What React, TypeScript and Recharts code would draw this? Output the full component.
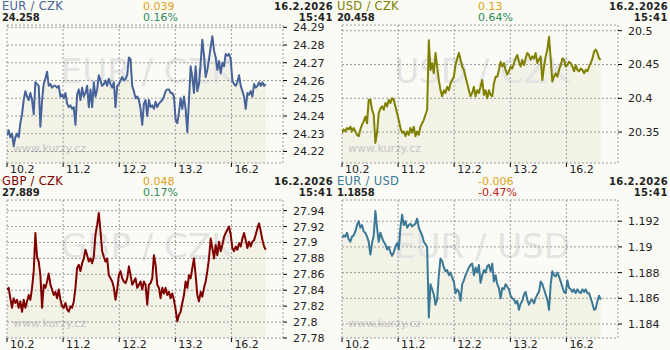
import React from 'react';
import { ComposedChart, Area, Line, XAxis, YAxis, CartesianGrid } from 'recharts';

// ---- shared axis data ----
const DAY_TICKS = [0, 1, 2, 3, 4];
const DAY_LABELS = ['10.2', '11.2', '12.2', '13.2', '16.2'];
const STEP_DAYS = 0.02976; // sampling interval of the quotes (days)
const X_END = 4.92;
const DATE_TEXT = '16.2.2026';
const TIME_TEXT = '15:41';

// ---- series values ----
const eurCzk = [
  24.229, 24.232, 24.228, 24.230, 24.223, 24.228, 24.230, 24.228, 24.236, 24.241,
  24.249, 24.254, 24.251, 24.249, 24.253, 24.249, 24.241, 24.259, 24.258, 24.257,
  24.234, 24.249, 24.258, 24.261, 24.265, 24.257, 24.258, 24.256, 24.257, 24.257,
  24.256, 24.257, 24.251, 24.252, 24.250, 24.253, 24.247, 24.245, 24.246, 24.244,
  24.245, 24.235, 24.252, 24.255, 24.249, 24.256, 24.251, 24.253, 24.257, 24.245,
  24.255, 24.245, 24.259, 24.251, 24.255, 24.263, 24.260, 24.257, 24.258, 24.260,
  24.257, 24.261, 24.258, 24.256, 24.259, 24.245, 24.257, 24.258, 24.260, 24.262,
  24.260, 24.261, 24.263, 24.273, 24.272, 24.257, 24.254, 24.250, 24.251, 24.249,
  24.244, 24.235, 24.247, 24.249, 24.240, 24.249, 24.245, 24.246, 24.244, 24.248,
  24.245, 24.247, 24.248, 24.249, 24.251, 24.254, 24.255, 24.255, 24.253, 24.253,
  24.251, 24.238, 24.236, 24.242, 24.250, 24.244, 24.251, 24.244, 24.231, 24.249,
  24.268, 24.262, 24.253, 24.268, 24.254, 24.258, 24.270, 24.283, 24.274, 24.262,
  24.266, 24.272, 24.279, 24.285, 24.277, 24.273, 24.266, 24.271, 24.264, 24.270,
  24.268, 24.275, 24.274, 24.275, 24.272, 24.260, 24.258, 24.257, 24.259, 24.263,
  24.257, 24.254, 24.251, 24.244, 24.253, 24.252, 24.254, 24.251, 24.258, 24.256,
  24.257, 24.259, 24.257, 24.259, 24.257, 24.258,
];

const usdCzk = [
  20.349, 20.354, 20.351, 20.356, 20.354, 20.358, 20.351, 20.356, 20.351, 20.346,
  20.344, 20.354, 20.361, 20.366, 20.373, 20.363, 20.398, 20.398, 20.383, 20.376,
  20.334, 20.349, 20.378, 20.385, 20.388, 20.383, 20.393, 20.388, 20.398, 20.393,
  20.400, 20.398, 20.388, 20.378, 20.368, 20.356, 20.349, 20.351, 20.344, 20.351,
  20.346, 20.356, 20.349, 20.358, 20.344, 20.351, 20.346, 20.358, 20.363, 20.368,
  20.376, 20.383, 20.486, 20.442, 20.452, 20.437, 20.467, 20.447, 20.427, 20.412,
  20.403, 20.412, 20.408, 20.417, 20.412, 20.422, 20.427, 20.432, 20.449, 20.459,
  20.467, 20.457, 20.447, 20.442, 20.432, 20.422, 20.412, 20.403, 20.408, 20.417,
  20.403, 20.412, 20.408, 20.417, 20.427, 20.405, 20.412, 20.400, 20.412, 20.405,
  20.403, 20.422, 20.432, 20.432, 20.442, 20.454, 20.447, 20.452, 20.442, 20.435,
  20.440, 20.447, 20.444, 20.452, 20.459, 20.464, 20.454, 20.447, 20.457, 20.449,
  20.459, 20.467, 20.464, 20.457, 20.462, 20.459, 20.467, 20.452, 20.457, 20.462,
  20.427, 20.447, 20.462, 20.472, 20.491, 20.459, 20.425, 20.432, 20.437, 20.432,
  20.442, 20.449, 20.459, 20.457, 20.447, 20.449, 20.454, 20.452, 20.447, 20.440,
  20.449, 20.442, 20.440, 20.444, 20.442, 20.437, 20.442, 20.440, 20.447, 20.452,
  20.459, 20.469, 20.472, 20.467, 20.459, 20.457,
];

const gbpCzk = [
  27.841, 27.843, 27.830, 27.818, 27.830, 27.824, 27.828, 27.818, 27.826, 27.813,
  27.828, 27.818, 27.826, 27.834, 27.828, 27.843, 27.864, 27.912, 27.882, 27.876,
  27.859, 27.818, 27.847, 27.843, 27.851, 27.861, 27.847, 27.841, 27.834, 27.838,
  27.830, 27.841, 27.828, 27.820, 27.818, 27.824, 27.816, 27.813, 27.820, 27.818,
  27.826, 27.843, 27.868, 27.872, 27.864, 27.874, 27.880, 27.891, 27.884, 27.876,
  27.880, 27.874, 27.882, 27.910, 27.922, 27.937, 27.914, 27.889, 27.882, 27.876,
  27.880, 27.859, 27.855, 27.851, 27.843, 27.828, 27.841, 27.859, 27.864, 27.855,
  27.851, 27.849, 27.855, 27.870, 27.859, 27.847, 27.851, 27.855, 27.843, 27.847,
  27.851, 27.841, 27.851, 27.847, 27.822, 27.847, 27.849, 27.855, 27.884, 27.872,
  27.847, 27.843, 27.830, 27.843, 27.836, 27.843, 27.834, 27.838, 27.830, 27.836,
  27.828, 27.816, 27.801, 27.809, 27.813, 27.824, 27.834, 27.851, 27.843, 27.859,
  27.855, 27.868, 27.880, 27.859, 27.834, 27.826, 27.838, 27.832, 27.843, 27.851,
  27.864, 27.880, 27.905, 27.893, 27.880, 27.897, 27.884, 27.901, 27.889, 27.897,
  27.907, 27.912, 27.916, 27.920, 27.910, 27.893, 27.889, 27.895, 27.891, 27.899,
  27.895, 27.905, 27.912, 27.903, 27.893, 27.901, 27.895, 27.901, 27.903, 27.910,
  27.918, 27.924, 27.914, 27.903, 27.895, 27.891,
];

const eurUsd = [
  1.1907, 1.1909, 1.1908, 1.1911, 1.1906, 1.1904, 1.1908, 1.1909, 1.1912, 1.1917,
  1.1920, 1.1915, 1.1917, 1.1912, 1.1911, 1.1908, 1.1904, 1.1894, 1.1903, 1.1909,
  1.1928, 1.1915, 1.1904, 1.1911, 1.1907, 1.1904, 1.1902, 1.1898, 1.1900, 1.1896,
  1.1893, 1.1896, 1.1900, 1.1903, 1.1898, 1.1915, 1.1925, 1.1917, 1.1920, 1.1915,
  1.1917, 1.1918, 1.1916, 1.1917, 1.1918, 1.1922, 1.1915, 1.1912, 1.1909, 1.1904,
  1.1902, 1.1900, 1.1845, 1.1871, 1.1867, 1.1863, 1.1855, 1.1859, 1.1878, 1.1891,
  1.1889, 1.1884, 1.1881, 1.1882, 1.1878, 1.1880, 1.1876, 1.1873, 1.1864, 1.1867,
  1.1865, 1.1858, 1.1871, 1.1874, 1.1878, 1.1881, 1.1884, 1.1886, 1.1887, 1.1878,
  1.1884, 1.1880, 1.1886, 1.1872, 1.1878, 1.1882, 1.1880, 1.1885, 1.1886, 1.1881,
  1.1887, 1.1873, 1.1878, 1.1871, 1.1868, 1.1860, 1.1868, 1.1867, 1.1871, 1.1869,
  1.1867, 1.1862, 1.1860, 1.1859, 1.1856, 1.1858, 1.1851, 1.1856, 1.1858, 1.1863,
  1.1865, 1.1859, 1.1855, 1.1858, 1.1859, 1.1856, 1.1860, 1.1863, 1.1865, 1.1873,
  1.1871, 1.1867, 1.1863, 1.1859, 1.1851, 1.1871, 1.1881, 1.1878, 1.1877, 1.1880,
  1.1877, 1.1873, 1.1869, 1.1865, 1.1864, 1.1874, 1.1868, 1.1867, 1.1865, 1.1867,
  1.1864, 1.1867, 1.1865, 1.1864, 1.1867, 1.1865, 1.1867, 1.1864, 1.1864, 1.1860,
  1.1856, 1.1851, 1.1852, 1.1858, 1.1862, 1.1859,
];

// ---- y ticks ----
const eurCzkTicks = [24.22, 24.23, 24.24, 24.25, 24.26, 24.27, 24.28, 24.29];
const usdCzkTicks = [20.35, 20.4, 20.45, 20.5];
const gbpCzkTicks = [27.78, 27.8, 27.82, 27.84, 27.86, 27.88, 27.9, 27.92, 27.94];
const eurUsdTicks = [1.184, 1.186, 1.188, 1.19, 1.192];

// ---- header values ----
const titles = ['EUR / CZK', 'USD / CZK', 'GBP / CZK', 'EUR / USD'];
const lastPrices = ['24.258', '20.458', '27.889', '1.1858'];
const changes = ['0.039', '0.13', '0.048', '-0.006'];
const changePcts = ['0.16%', '0.64%', '0.17%', '-0.47%'];

const BG = '#fbfbf6';
const FILL = '#f2f2e7';
const WATERMARK = '#e4e4e4';
const FONT = '"DejaVu Sans", Verdana, sans-serif';

const panels = [
  { title: titles[0], price: lastPrices[0], chg: changes[0], pct: changePcts[0], up: true,
    values: eurCzk, ticks: eurCzkTicks, domain: [24.2135, 24.2913], color: '#47639a', left: 0, top: 0 },
  { title: titles[1], price: lastPrices[1], chg: changes[1], pct: changePcts[1], up: true,
    values: usdCzk, ticks: usdCzkTicks, domain: [20.3043, 20.5084], color: '#808000', left: 335, top: 0 },
  { title: titles[2], price: lastPrices[2], chg: changes[2], pct: changePcts[2], up: true,
    values: gbpCzk, ticks: gbpCzkTicks, domain: [27.78, 27.9534], color: '#800000', left: 0, top: 175 },
  { title: titles[3], price: lastPrices[3], chg: changes[3], pct: changePcts[3], up: false,
    values: eurUsd, ticks: eurUsdTicks, domain: [1.18291, 1.19365], color: '#3b7896', left: 335, top: 175 },
];

const fmt = (v: number) => String(Number(v.toFixed(4)));

const XTick = (props: any) => {
  const { x, y, payload } = props;
  const idx = DAY_TICKS.indexOf(payload.value);
  return (
    <text x={x + 3} y={y + 4} fill="#222" fontSize={11} fontFamily={FONT}>
      {DAY_LABELS[idx]}
    </text>
  );
};

const YTick = (props: any) => {
  const { x, y, payload } = props;
  return (
    <text x={x} y={y + 4} fill="#222" fontSize={11} fontFamily={FONT}>
      {fmt(payload.value)}
    </text>
  );
};

const W = 335;
const H = 175;

function Panel({ p }: { p: any }) {
  const data = p.values.map((v: number, i: number) => ({ t: i * STEP_DAYS, v }));
  return (
    <div style={{ position: 'absolute', left: p.left, top: p.top, width: W, height: H }}>
      {/* fill layer */}
      <div style={{ position: 'absolute', left: 0, top: 0 }}>
        <ComposedChart width={W} height={H} data={data} margin={{ top: 25, right: 52, bottom: 12, left: 7 }}>
          <XAxis type="number" dataKey="t" domain={[0, X_END]} hide allowDataOverflow />
          <YAxis type="number" domain={p.domain} hide allowDataOverflow />
          <Area dataKey="v" type="linear" stroke="none" fill={FILL} fillOpacity={1}
            baseValue={p.domain[0]} isAnimationActive={false} dot={false} activeDot={false} />
        </ComposedChart>
      </div>
      {/* watermark layer */}
      <svg width={W} height={H} style={{ position: 'absolute', left: 0, top: 0 }}>
        <text x={147} y={83} textAnchor="middle" fontSize={34} fontFamily={FONT} fill={WATERMARK}>{p.title}</text>
        <text x={13} y={152} fontSize={11} fontFamily={FONT} fill="#c6c6c6">www.kurzy.cz</text>
      </svg>
      {/* grid, axes, line */}
      <div style={{ position: 'absolute', left: 0, top: 0 }}>
        <ComposedChart width={W} height={H} data={data} margin={{ top: 25, right: 0, bottom: 0, left: 0 }}>
          <CartesianGrid stroke="#9a9a9a" strokeDasharray="2 2" />
          <XAxis type="number" dataKey="t" domain={[0, X_END]} ticks={DAY_TICKS} interval={0}
            height={12} tickSize={4} tickMargin={2} axisLine={false} tickLine={{ stroke: '#000' }}
            tick={<XTick />} allowDataOverflow />
          <XAxis xAxisId="top" orientation="top" type="number" dataKey="t" domain={[0, X_END]} ticks={DAY_TICKS}
            interval={0} height={0} mirror tickSize={2} tick={false} axisLine={false}
            tickLine={{ stroke: '#000' }} allowDataOverflow />
          <YAxis yAxisId="left" orientation="left" type="number" domain={p.domain} ticks={p.ticks}
            interval={0} width={7} tickSize={2} tick={false} axisLine={false}
            tickLine={{ stroke: '#000' }} allowDataOverflow />
          <YAxis orientation="right" type="number" domain={p.domain} ticks={p.ticks} interval={0}
            width={52} tickSize={4} tickMargin={6} axisLine={false} tickLine={{ stroke: '#000' }}
            tick={<YTick />} allowDataOverflow />
          <Line dataKey="v" type="linear" stroke={p.color} strokeWidth={2} strokeLinejoin="round"
            dot={false} activeDot={false} isAnimationActive={false} />
        </ComposedChart>
      </div>
      {/* header */}
      <svg width={W} height={26} style={{ position: 'absolute', left: 0, top: 0 }}>
        <text x={2} y={10} fontSize={11.5} fontFamily={FONT} fill={p.color} letterSpacing={0.3}>{p.title}</text>
        <text x={2} y={21} fontSize={10} fontWeight="bold" fontFamily={FONT} fill="#222" letterSpacing={-0.2}>{p.price}</text>
        <text x={143} y={10} fontSize={11} fontFamily={FONT} fill="#e0a21a">{p.chg}</text>
        <text x={143} y={21} fontSize={11} fontFamily={FONT} fill={p.up ? '#2e8b57' : '#c42020'}>{p.pct}</text>
        <text x={333} y={10} textAnchor="end" fontSize={10} fontWeight="bold" fontFamily={FONT} fill="#222" letterSpacing={0.3}>{DATE_TEXT}</text>
        <text x={333} y={21} textAnchor="end" fontSize={10} fontWeight="bold" fontFamily={FONT} fill="#222" letterSpacing={0.5}>{TIME_TEXT}</text>
      </svg>
    </div>
  );
}

export default function App() {
  return (
    <div style={{ position: 'absolute', left: 0, top: 0, width: 670, height: 350, background: BG, overflow: 'hidden' }}>
      {panels.map((p) => (
        <Panel key={p.title} p={p} />
      ))}
    </div>
  );
}
